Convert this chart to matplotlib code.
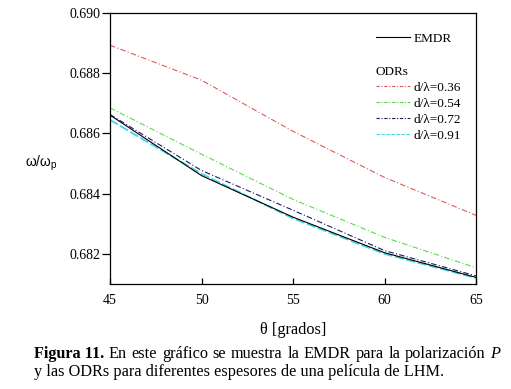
import matplotlib
matplotlib.use("Agg")
import matplotlib.pyplot as plt
from matplotlib.lines import Line2D

plt.rcParams.update({
    "font.family": "Liberation Serif",
    "font.size": 10,
    "mathtext.fontset": "custom",
    "mathtext.rm": "Liberation Sans",
    "mathtext.it": "Liberation Sans:italic",
})

# -- data --
theta = [45, 50, 55, 60, 65]
emdr = [0.68661, 0.68460, 0.68322, 0.68204, 0.68122]
odr_036 = [0.68893, 0.68777, 0.68607, 0.68454, 0.68328]
odr_054 = [0.68685, 0.68531, 0.68381, 0.68255, 0.68154]
odr_072 = [0.68663, 0.68477, 0.68345, 0.68211, 0.68127]
odr_091 = [0.68645, 0.68466, 0.68318, 0.68200, 0.68120]
odr_labels = ["d/\u03bb=0.36", "d/\u03bb=0.54", "d/\u03bb=0.72", "d/\u03bb=0.91"]

RED = "#e05a5a"
GREEN = "#5fd84a"
NAVY = "#1c1c66"
CYAN = "#3fd6e6"

fig = plt.figure(figsize=(5.11, 3.89), dpi=100)
ax = fig.add_axes([110/511, 1 - 284/389, 366/511, 271/389])

ax.plot(theta, odr_036, color=RED, lw=0.8, ls=(0, (5, 2, 1, 2)))
ax.plot(theta, odr_054, color=GREEN, lw=0.8, ls=(0, (5, 2, 1, 2)))
ax.plot(theta, odr_091, color=CYAN, lw=1.3, ls=(0, (5, 1.5)))
ax.plot(theta, odr_072, color=NAVY, lw=0.8, ls=(0, (5, 2, 1, 2)))
ax.plot(theta, emdr, color="black", lw=0.8)

ax.set_xlim(45, 65)
ax.set_ylim(0.681, 0.690)
ax.set_xticks([45, 50, 55, 60, 65])
ax.set_yticks([0.682, 0.684, 0.686, 0.688, 0.690])
ax.yaxis.set_major_formatter(matplotlib.ticker.FormatStrFormatter("%.3f"))
ax.tick_params(axis="y", direction="out", length=6, width=0.9, pad=1, labelsize=10)
ax.tick_params(axis="x", direction="in", length=4, width=0.9, pad=7, labelsize=10)
for s in ax.spines.values():
    s.set_linewidth(0.9)

ax.set_xlabel("\u03b8 [grados]", fontsize=11.7, labelpad=11)
fig.text(25/511, 1 - 163/389, r"$\mathrm{\omega/\omega_p}$", fontsize=10,
         ha="left", va="center")

# legend: EMDR entry, then ODRs block
h_emdr = [Line2D([], [], color="black", lw=0.8)]
leg1 = ax.legend(h_emdr, ["EMDR"], loc="upper left", bbox_to_anchor=(0.726, 0.927),
                 frameon=False, fontsize=9.5, handlelength=2.6, handletextpad=0.3,
                 borderpad=0, borderaxespad=0)
ax.add_artist(leg1)
h_odr = [
    Line2D([], [], color=RED, lw=0.8, ls=(0, (3, 1.5, 1, 1.5))),
    Line2D([], [], color=GREEN, lw=0.8, ls=(0, (3, 1.5, 1, 1.5))),
    Line2D([], [], color=NAVY, lw=0.8, ls=(0, (3, 1.5, 1, 1.5))),
    Line2D([], [], color=CYAN, lw=0.8, ls=(0, (3, 1.5))),
]
leg2 = ax.legend(h_odr, odr_labels, loc="upper left", bbox_to_anchor=(0.726, 0.805),
                 frameon=False, fontsize=9.5, handlelength=2.6, handletextpad=0.3,
                 labelspacing=0.28, borderpad=0, borderaxespad=0,
                 title="ODRs", title_fontsize=9.5, alignment="left")

# caption, first line justified
fig.canvas.draw()
r = fig.canvas.get_renderer()
cap_fs = 11.7
runs = [("Figura 11.", "bold", "normal")]
runs += [(w, "normal", "normal") for w in
         "En este gráfico se muestra la EMDR para la polarización".split()]
runs += [("P", "normal", "italic")]
x0, x1, y1 = 34 / 511, 500 / 511, 1 - 354 / 389
texts = []
for w, fw, st in runs:
    t = fig.text(0, y1, w, fontsize=cap_fs, fontweight=fw, fontstyle=st,
                 ha="left", va="center")
    texts.append(t)
widths = [t.get_window_extent(r).width / 511 for t in texts]
gap = (x1 - x0 - sum(widths)) / (len(texts) - 1)
x = x0
for t, w in zip(texts, widths):
    t.set_x(x)
    x += w + gap
fig.text(x0, 1 - 372 / 389,
         "y las ODRs para diferentes espesores de una película de LHM.",
         fontsize=cap_fs, ha="left", va="center")

fig.savefig("out.png", dpi=100)
